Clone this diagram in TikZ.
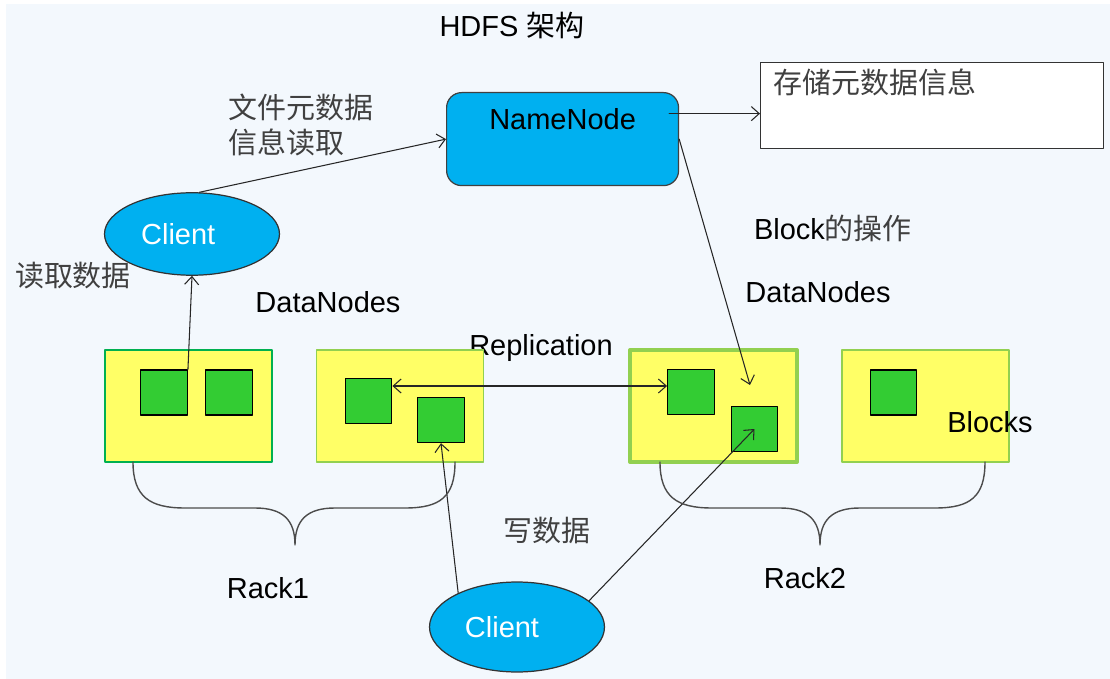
\documentclass[tikz,border=0pt]{standalone}
\usepackage{fontspec}
\setmainfont{Liberation Sans}
\newfontfamily\cjk{Noto Sans CJK SC}
\usepackage{tikz}
\usetikzlibrary{arrows,arrows.meta,shapes.geometric}
\definecolor{bgblue}{HTML}{F3F8FD}
\definecolor{nncyan}{HTML}{00B0F0}
\definecolor{rackyel}{HTML}{FFFF66}
\definecolor{blkgrn}{HTML}{33CC33}
\definecolor{edgegrn}{HTML}{92D050}
\definecolor{darkgrn}{HTML}{00B050}

\begin{document}
\begin{tikzpicture}[line cap=round,line join=round,>={Straight Barb[length=4.5pt,width=8pt]},x=0.02cm,y=-0.02cm,
  txt/.style={font=\fontsize{16.5}{19.8}\selectfont,inner sep=0pt},
  zh/.style={font=\fontsize{16.5}{19.8}\selectfont\cjk,text=black!75,inner sep=0pt},
  client/.style={ellipse,draw=black!80,fill=nncyan,line width=0.7pt,minimum width=3.5cm,
    font=\fontsize{16.5}{19.8}\selectfont,text=white},
  rackbox/.style={draw=edgegrn,fill=rackyel,line width=0.8pt,minimum width=3.34cm,minimum height=2.24cm,inner sep=0pt},
  block/.style={draw=black,fill=blkgrn,line width=0.8pt,minimum width=0.93cm,minimum height=0.9cm,inner sep=0pt},
  conn/.style={black!85,line width=0.6pt}]
\useasboundingbox (0,0) rectangle (1110,679);
\fill[white] (0,0) rectangle (1110,679);
\fill[bgblue] (6,4) rectangle (1110,679);

\node[txt] (title) at (512,25) {HDFS {\cjk 架构}};

\node[draw=black!75,fill=nncyan,rounded corners=0.3cm,line width=0.7pt,anchor=north west,
  minimum width=4.64cm,inner ysep=0.18cm,text height=0.55cm,text depth=0.95cm,
  font=\fontsize{16.5}{19.8}\selectfont] (nn) at (446,92) {NameNode};
\node[draw=black!80,fill=white,line width=0.8pt,anchor=north west,text width=6.34cm,inner xsep=0.26cm,
  inner ysep=0.11cm,text height=0.5cm,text depth=1.0cm,font=\fontsize{16.5}{19.8}\selectfont\cjk,
  text=black!75] (store) at (760,62) {存储元数据信息};

\node[zh,anchor=west,align=left] (meta) at (228,125) {文件元数据\\信息读取};
\node[client,minimum height=1.65cm] (cli1) at (192,234) {\hspace*{-0.55cm}Client};
\node[zh] (readlbl) at (73,276) {读取数据};
\node[txt] (dn1) at (328,302) {DataNodes};
\node[txt] (dn2) at (818,292) {DataNodes};
\node[txt] (blkop) at (833,228) {Block{\cjk\color{black!75}的操作}};
\node[txt] (repl) at (541,348) {Replication};

\node[rackbox,draw=darkgrn] (rA) at (188.5,406) {};
\node[rackbox] (rB) at (400,406) {};
\node[rackbox,line width=2.3pt] (rC) at (713.5,406) {};
\node[rackbox] (rD) at (925.5,406) {};

\node[block] (a1) at (164,392.5) {};
\node[block] (a2) at (229,392.5) {};
\node[block] (b1) at (368.5,401) {};
\node[block] (b2) at (441,420) {};
\node[block] (c1) at (691,392) {};
\node[block] (c2) at (754.5,429) {};
\node[block] (d1) at (893.5,392.5) {};
\node[txt] (blocks) at (990,422) {Blocks};

\node[zh] (write) at (547,531) {写数据};
\node[txt] (rack1) at (268,588) {Rack1};
\node[txt] (rack2) at (805,578) {Rack2};
\node[client,minimum height=1.8cm] (cli2) at (517,627) {\hspace*{-0.6cm}Client};

\coordinate (optip) at (750,385);

\draw[conn,->] (cli1.80) -- (nn.west);
\draw[conn,->] ([xshift=-0.2cm,yshift=0.51cm]nn.east) -- ([yshift=0.51cm]nn.east -| store.west);
\draw[conn,->] (nn.east) -- (optip);
\draw[conn,->] (a1.north east) -- (cli1.south);
\draw[conn,<->] ([yshift=0.3cm]b1.east) -- ([yshift=0.3cm]b1.east -| c1.west);
\draw[conn,->] (cli2.150) -- (b2.south);
\draw[conn,->] (cli2.20) -- (c2.center);

\draw[black!70,line width=0.8pt] (133,462) .. controls (133,497) and (150,508) .. (185,508) -- (255,508)
  .. controls (283,508) and (295,520) .. (295,545) .. controls (295,520) and (307,508) .. (335,508)
  -- (405,508) .. controls (440,508) and (455,497) .. (455,462);
\draw[black!70,line width=0.8pt] (660,462) .. controls (660,497) and (677,508) .. (712,508) -- (780,508)
  .. controls (808,508) and (820,520) .. (820,545) .. controls (820,520) and (832,508) .. (860,508)
  -- (935,508) .. controls (970,508) and (985,497) .. (985,462);
\end{tikzpicture}
\end{document}
